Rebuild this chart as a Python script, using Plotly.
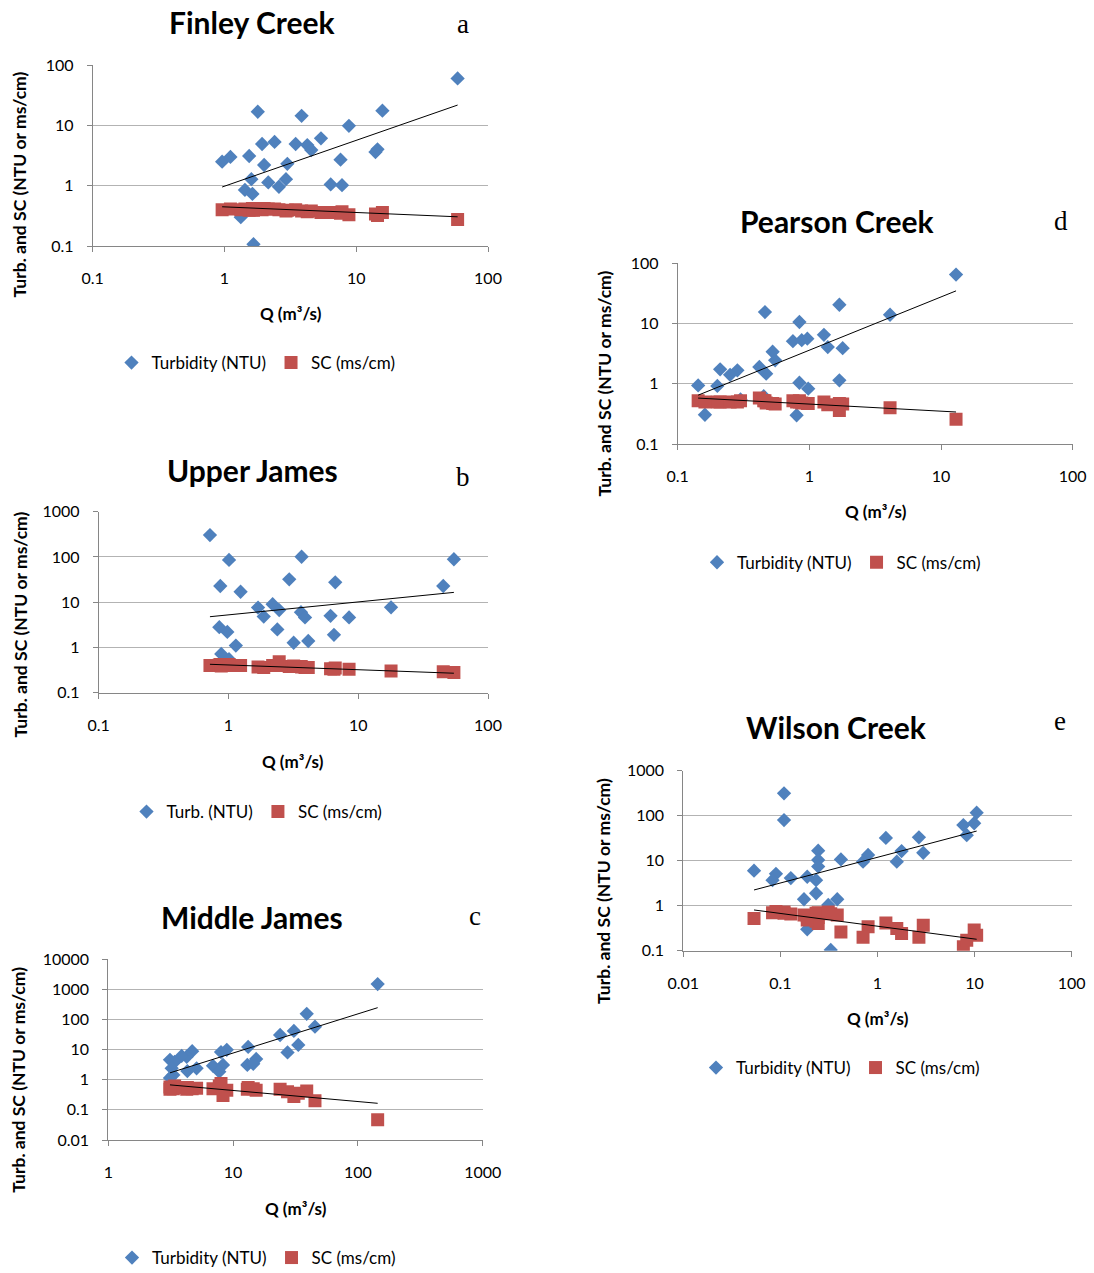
import numpy as np
import plotly.graph_objects as go

W, H = 1094, 1273

# ---------------- data ----------------
# a: Finley Creek
q_a = [58.8, 1.79, 3.85, 15.8, 8.8, 1.93, 2.4, 3.47, 4.25, 4.56, 5.4, 0.96, 1.11, 1.54, 2.0,
       3.0, 7.6, 14.5, 14.0, 1.6, 2.15, 2.93, 2.59, 6.4, 7.8, 1.43, 1.63, 1.33, 1.66]
turb_a = [60, 16.8, 14.4, 17.5, 9.8, 4.9, 5.3, 4.9, 4.7, 3.9, 6.1, 2.5, 3.0, 3.1, 2.2,
          2.3, 2.7, 4.0, 3.6, 1.28, 1.13, 1.28, 0.96, 1.05, 1.02, 0.85, 0.73, 0.30, 0.107]
sc_a = [0.276, 0.41, 0.38, 0.36, 0.33, 0.40, 0.41, 0.40, 0.37, 0.38, 0.36, 0.40, 0.41, 0.39, 0.42,
        0.39, 0.35, 0.32, 0.34, 0.40, 0.41, 0.38, 0.40, 0.36, 0.37, 0.41, 0.42, 0.40, 0.39]
trend_turb_a = [0.98, 0.76]      # coefficient, exponent of power trendline
trend_sc_a = [0.445, -0.093]

# b: Upper James
q_b = [0.72, 1.01, 3.66, 54.6, 0.865, 1.24, 2.94, 6.65, 45.2, 17.9, 1.69, 2.19, 1.87, 2.46,
       3.62, 3.89, 6.12, 8.5, 0.85, 0.98, 2.38, 6.5, 1.14, 3.18, 4.12, 0.88, 1.01]
turb_b = [305, 86, 101, 89, 22.8, 17, 32, 27.5, 22.8, 7.7, 7.6, 9.0, 4.8, 6.7,
          6.0, 4.6, 5.0, 4.6, 2.8, 2.2, 2.5, 1.9, 1.1, 1.27, 1.39, 0.72, 0.55]
sc_b = [0.40, 0.40, 0.37, 0.28, 0.42, 0.40, 0.38, 0.35, 0.29, 0.30, 0.37, 0.40, 0.36, 0.48,
        0.38, 0.36, 0.34, 0.33, 0.41, 0.41, 0.40, 0.33, 0.40, 0.39, 0.36, 0.39, 0.42]
trend_turb_b = [5.25, 0.286]
trend_sc_b = [0.41, -0.105]

# c: Middle James
q_c = [144, 38.9, 45.3, 23.8, 30.7, 33.3, 27.3, 13.2, 15.3, 13.0, 14.5, 8.9, 8.0, 8.3, 6.9,
       7.75, 4.7, 4.25, 3.87, 5.1, 4.3, 3.12, 3.4, 3.22, 3.32, 3.12]
turb_c = [1500, 155, 58, 30.7, 42, 14.3, 8.1, 12.3, 4.9, 3.1, 3.4, 9.9, 8.3, 3.1, 2.9,
          1.86, 8.9, 5.8, 6.2, 2.4, 1.95, 4.6, 3.9, 2.4, 1.45, 1.15]
sc_c = [0.047, 0.42, 0.20, 0.48, 0.28, 0.36, 0.40, 0.55, 0.45, 0.48, 0.50, 0.45, 0.75, 0.30, 0.50,
        0.62, 0.50, 0.48, 0.55, 0.52, 0.55, 0.58, 0.62, 0.52, 0.50, 0.48]
trend_turb_c = [0.387, 1.30]
trend_sc_c = [1.03, -0.368]

# d: Pearson Creek
q_d = [13, 1.69, 0.46, 4.1, 0.84, 1.29, 0.75, 0.875, 0.965, 1.38, 1.79, 0.526, 0.55, 0.21,
       0.284, 0.25, 0.417, 0.47, 0.143, 0.2, 0.84, 0.98, 1.69, 0.161, 0.8, 0.3, 0.45]
turb_d = [65, 20.5, 15.5, 14, 10.6, 6.5, 5.1, 5.3, 5.6, 4.07, 3.9, 3.4, 2.45, 1.74,
          1.67, 1.41, 1.9, 1.47, 0.94, 0.92, 1.04, 0.83, 1.14, 0.306, 0.3, 0.55, 0.62]
sc_d = [0.257, 0.36, 0.52, 0.40, 0.50, 0.50, 0.52, 0.48, 0.47, 0.45, 0.46, 0.47, 0.46, 0.50,
        0.50, 0.50, 0.58, 0.48, 0.52, 0.50, 0.52, 0.47, 0.47, 0.50, 0.50, 0.52, 0.52]
trend_turb_d = [3.61, 0.884]
trend_sc_d = [0.46, -0.118]

# e: Wilson Creek
q_e = [0.109, 0.109, 10.5, 7.66, 9.9, 8.3, 1.22, 2.67, 2.96, 1.77, 1.58, 0.8, 0.71, 0.42, 0.245,
       0.245, 0.245, 0.0535, 0.090, 0.083, 0.128, 0.189, 0.233, 0.175, 0.233, 0.385, 0.311, 0.189, 0.33]
turb_e = [315, 80, 117, 62, 68, 37, 32, 33, 15, 16.4, 9.5, 13.4, 9.5, 10.7, 16.7,
          10.4, 7.4, 6.0, 5.1, 3.7, 4.1, 4.4, 3.7, 1.39, 1.89, 1.39, 1.04, 0.30, 0.104]
sc_e = [0.72, 0.68, 0.22, 0.123, 0.29, 0.17, 0.41, 0.20, 0.37, 0.24, 0.31, 0.34, 0.20, 0.26, 0.55,
        0.70, 0.40, 0.52, 0.74, 0.70, 0.65, 0.60, 0.45, 0.62, 0.68, 0.62, 0.72, 0.48, 0.66]
trend_turb_e = [11.9, 0.571]
trend_sc_e = [0.35, -0.284]

titles = ["Finley Creek", "Upper James", "Middle James", "Pearson Creek", "Wilson Creek"]
letters = ["a", "b", "c", "d", "e"]
turb_names = ["Turbidity (NTU)", "Turb. (NTU)", "Turbidity (NTU)", "Turbidity (NTU)", "Turbidity (NTU)"]
sc_name = "SC (ms/cm)"
x_title = "Q (m³/s)"
y_title = "Turb. and SC (NTU or ms/cm)"

xticks_a = ["0.1", "1", "10", "100"]
yticks_a = ["0.1", "1", "10", "100"]
xticks_b = ["0.1", "1", "10", "100"]
yticks_b = ["0.1", "1", "10", "100", "1000"]
xticks_c = ["1", "10", "100", "1000"]
yticks_c = ["0.01", "0.1", "1", "10", "100", "1000", "10000"]
xticks_d = ["0.1", "1", "10", "100"]
yticks_d = ["0.1", "1", "10", "100"]
xticks_e = ["0.01", "0.1", "1", "10", "100"]
yticks_e = ["0.1", "1", "10", "100", "1000"]

# ---------------- layout geometry (pixels) ----------------
geo = [
    dict(box=(92.7, 488, 65, 246), title=(252, 22), letter=(463, 24), xt=(291, 313), yt=(19, 184.5), leg=(256, 363)),
    dict(box=(98.7, 488, 511.7, 692.7), title=(252, 470), letter=(463, 477), xt=(293, 761.7), yt=(20, 624.5), leg=(257, 812)),
    dict(box=(108.3, 482.7, 959.3, 1140), title=(252, 917), letter=(475, 916), xt=(296, 1208.3), yt=(18.3, 1079.5), leg=(256.5, 1258)),
    dict(box=(677.7, 1072.7, 263.3, 444), title=(836.7, 221), letter=(1061, 221), xt=(876, 511.7), yt=(604, 383.5), leg=(841.5, 562.7)),
    dict(box=(683.3, 1071.7, 770.7, 950.7), title=(836.7, 727), letter=(1060, 721), xt=(877.7, 1018.3), yt=(603.3, 890.7), leg=(840.5, 1068)),
]

data = [
    (q_a, turb_a, sc_a, trend_turb_a, trend_sc_a, xticks_a, yticks_a),
    (q_b, turb_b, sc_b, trend_turb_b, trend_sc_b, xticks_b, yticks_b),
    (q_c, turb_c, sc_c, trend_turb_c, trend_sc_c, xticks_c, yticks_c),
    (q_d, turb_d, sc_d, trend_turb_d, trend_sc_d, xticks_d, yticks_d),
    (q_e, turb_e, sc_e, trend_turb_e, trend_sc_e, xticks_e, yticks_e),
]

BLUE = "#4F81BD"
RED = "#C0504D"
GRID = "#B3B3B3"
AXIS = "#868686"
FONT = "Lato"


def fx(p):
    return p / W


def fy(p):
    return 1 - p / H


fig = go.Figure()
layout = dict(template="none", width=W, height=H, autosize=False,
              margin=dict(l=0, r=0, t=0, b=0, pad=0, autoexpand=False),
              paper_bgcolor="white", plot_bgcolor="white", annotations=[], showlegend=True)

for i, ((q, turb, sc, tt, ts, xt, yt), g) in enumerate(zip(data, geo)):
    s = "" if i == 0 else str(i + 1)
    xa, ya, lg = "x" + s, "y" + s, "legend" + s

    fig.add_trace(go.Scatter(x=q, y=turb, mode="markers", name=turb_names[i],
                             marker=dict(symbol="diamond", size=11, color=BLUE, line=dict(width=0)),
                             xaxis=xa, yaxis=ya, legend=lg, hoverinfo="x+y"))
    fig.add_trace(go.Scatter(x=q, y=sc, mode="markers", name=sc_name,
                             marker=dict(symbol="square", size=13, color=RED, line=dict(width=0)),
                             xaxis=xa, yaxis=ya, legend=lg, hoverinfo="x+y"))
    xs = np.geomspace(min(q), max(q), 60)
    for coef in (tt, ts):
        fig.add_trace(go.Scatter(x=xs, y=coef[0] * xs ** coef[1], mode="lines",
                                 line=dict(color="black", width=1), showlegend=False,
                                 xaxis=xa, yaxis=ya, hoverinfo="skip"))

    l, r, t, b = g["box"]
    xv = [float(v) for v in xt]
    yv = [float(v) for v in yt]
    layout["xaxis" + s] = dict(type="log", domain=[fx(l), fx(r)], anchor=ya, automargin=False,
                               range=[np.log10(xv[0]), np.log10(xv[-1])],
                               tickmode="array", tickvals=xv, ticktext=xt,
                               showgrid=False, zeroline=False, showline=True, linecolor=AXIS, linewidth=1,
                               ticks="outside", ticklen=5, tickcolor=AXIS, tickwidth=1,
                               ticklabelstandoff=13,
                               tickfont=dict(family=FONT, size=16, color="black"))
    layout["yaxis" + s] = dict(type="log", domain=[fy(b), fy(t)], anchor=xa, automargin=False,
                               range=[np.log10(yv[0]), np.log10(yv[-1])],
                               tickmode="array", tickvals=yv, ticktext=yt,
                               showgrid=True, gridcolor=GRID, gridwidth=1, zeroline=False,
                               showline=True, linecolor=AXIS, linewidth=1,
                               ticks="outside", ticklen=5, tickcolor=AXIS, tickwidth=1,
                               ticklabelstandoff=10,
                               tickfont=dict(family=FONT, size=16, color="black"))
    layout[lg] = dict(x=fx(g["leg"][0]), y=fy(g["leg"][1]), xref="paper", yref="paper",
                      xanchor="center", yanchor="middle", orientation="h",
                      bgcolor="rgba(0,0,0,0)", borderwidth=0,
                      font=dict(family=FONT, size=17, color="black"),
                      itemclick=False, itemdoubleclick=False)

    ann = layout["annotations"]
    ann.append(dict(text="<b>" + titles[i] + "</b>", x=fx(g["title"][0]), y=fy(g["title"][1]),
                    xref="paper", yref="paper", xanchor="center", yanchor="middle", showarrow=False,
                    font=dict(family=FONT, size=30, color="black")))
    ann.append(dict(text=letters[i], x=fx(g["letter"][0]), y=fy(g["letter"][1]),
                    xref="paper", yref="paper", xanchor="center", yanchor="middle", showarrow=False,
                    font=dict(family="Liberation Serif", size=27, color="black")))
    ann.append(dict(text="<b>" + x_title + "</b>", x=fx(g["xt"][0]), y=fy(g["xt"][1]),
                    xref="paper", yref="paper", xanchor="center", yanchor="middle", showarrow=False,
                    font=dict(family=FONT, size=17, color="black")))
    ann.append(dict(text="<b>" + y_title + "</b>", x=fx(g["yt"][0]), y=fy(g["yt"][1]),
                    xref="paper", yref="paper", xanchor="center", yanchor="middle", showarrow=False,
                    textangle=-90, font=dict(family=FONT, size=17.5, color="black")))

fig.update_layout(**layout)
fig.write_html("out.html", config={"displayModeBar": False},
               post_script="document.body.style.margin='0px';document.body.style.overflow='hidden';")
